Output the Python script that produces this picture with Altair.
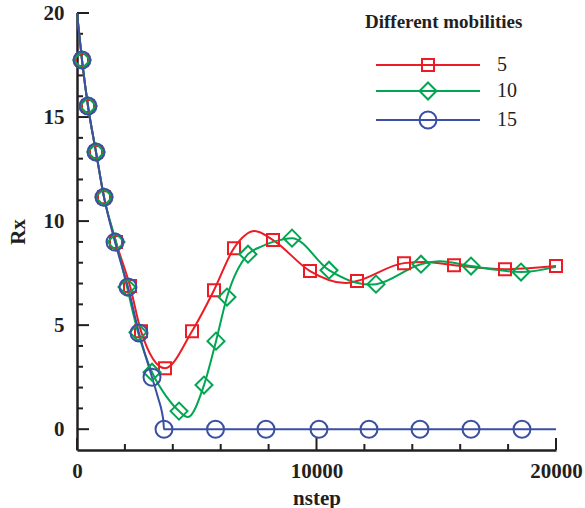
import altair as alt
import pandas as pd

series_names = ["5", "10", "15"]
series_colors = ["#ed1c24", "#00a651", "#3b50a3"]

# marker positions
red_mark_x = [209, 459, 793, 1127, 1628, 2213, 2672, 3674, 4802, 5720, 6555, 8184, 9729, 11691, 13653, 15741, 17871, 20000]
red_mark_y = [17.74, 15.53, 13.32, 11.15, 8.99, 6.88, 4.71, 2.93, 4.71, 6.68, 8.70, 9.09, 7.60, 7.12, 7.98, 7.88, 7.69, 7.84]
green_mark_x = [209, 459, 793, 1127, 1628, 2088, 2547, 3132, 4259, 5303, 5804, 6263, 7140, 8977, 10522, 12484, 14363, 16451, 18539]
green_mark_y = [17.74, 15.53, 13.32, 11.15, 8.99, 6.83, 4.66, 2.74, 0.87, 2.12, 4.23, 6.35, 8.41, 9.18, 7.64, 6.97, 7.93, 7.84, 7.55]
blue_mark_x = [209, 459, 793, 1127, 1587, 2129, 2589, 3132, 3633, 5783, 7891, 10104, 12192, 14321, 16451, 18580]
blue_mark_y = [17.74, 15.53, 13.32, 11.15, 8.99, 6.83, 4.62, 2.50, 0.0, 0.0, 0.0, 0.0, 0.0, 0.0, 0.0, 0.0]

# additional points of the curves between markers
red_curve_x = [0, 7417, 11200, 14500]
red_curve_y = [20.0, 9.52, 7.02, 8.03]
green_curve_x = [0, 3744, 4625, 7641, 8184, 12200, 15156, 20000]
green_curve_y = [20.0, 1.55, 0.58, 8.75, 9.00, 6.95, 8.07, 7.80]
blue_curve_x = [0, 3400, 3550, 3610, 20000]
blue_curve_y = [20.0, 1.45, 0.80, 0.35, 0.0]

# axis ticks
x_label_values = [0, 10000, 20000]
y_label_values = [0, 5, 10, 15, 20]
x_major_ticks = [0, 10000, 20000]
x_minor_ticks = [2000, 4000, 6000, 8000, 12000, 14000, 16000, 18000]
y_major_ticks = [0, 5, 10, 15, 20]
y_minor_ticks = [1, 2, 3, 4, 6, 7, 8, 9, 11, 12, 13, 14, 16, 17, 18, 19]

marks = {
    "5": (red_mark_x, red_mark_y),
    "10": (green_mark_x, green_mark_y),
    "15": (blue_mark_x, blue_mark_y),
}
curves = {
    "5": (red_curve_x, red_curve_y),
    "10": (green_curve_x, green_curve_y),
    "15": (blue_curve_x, blue_curve_y),
}

mark_rows, line_rows = [], []
for s in series_names:
    mx, my = marks[s]
    cx, cy = curves[s]
    for x, y in zip(mx, my):
        mark_rows.append({"series": s, "x": x, "y": y})
    pts = {}
    for x, y in list(zip(mx, my)) + list(zip(cx, cy)):
        pts[x] = y
    for x in sorted(pts):
        line_rows.append({"series": s, "x": x, "y": pts[x]})
marks_df = pd.DataFrame(mark_rows)
lines_df = pd.DataFrame(line_rows)

FONT = "Liberation Serif, Times New Roman, Times, serif"
INK = "#231f20"
W, H = 479, 437

xs = alt.Scale(domain=[0, 20000], nice=False, zero=False)
ys = alt.Scale(domain=[-1, 20], nice=False, zero=False)
cs = alt.Scale(domain=series_names, range=series_colors)

L = 6.5
legend_paths = [
    f"M-{L},0L{L},0M-0.75,-0.75L0.75,-0.75L0.75,0.75L-0.75,0.75Z",
    f"M-{L},0L{L},0M0,-1.06L1.06,0L0,1.06L-1.06,0Z",
    f"M-{L},0L{L},0M-1.06,0A1.06,1.06 0 1,0 1.06,0A1.06,1.06 0 1,0 -1.06,0Z",
]
shape_scale = alt.Scale(domain=series_names, range=legend_paths)

legend = alt.Legend(
    title="Different mobilities", orient="none", legendX=288, legendY=0,
    padding=0, symbolSize=256, symbolStrokeWidth=2, symbolOffset=53,
    symbolOpacity=1, labelOffset=59, labelFont=FONT, labelFontSize=20,
    labelColor=INK, titleFont=FONT, titleFontSize=19, titleFontWeight="bold",
    titleColor=INK, titlePadding=23, rowPadding=3,
)

x_axis = alt.Axis(values=x_label_values, format="d", title="nstep", ticks=False,
                  grid=False, labelFlush=False, labelOverlap=False, labelPadding=10,
                  titlePadding=6)
y_axis = alt.Axis(values=y_label_values, title="Rx", ticks=False, grid=False,
                  labelPadding=13, titlePadding=15, labelOverlap=False)

legend_layer = alt.Chart(marks_df).transform_filter(alt.datum.x < 0).mark_point(
    filled=False, strokeWidth=2
).encode(
    x=alt.X("x:Q", scale=xs, axis=x_axis),
    y=alt.Y("y:Q", scale=ys, axis=y_axis),
    color=alt.Color("series:N", scale=cs, legend=legend),
    shape=alt.Shape("series:N", scale=shape_scale, legend=legend),
)

lines = alt.Chart(lines_df).mark_line(strokeWidth=2, interpolate="monotone").encode(
    x=alt.X("x:Q", scale=xs, axis=x_axis),
    y=alt.Y("y:Q", scale=ys, axis=y_axis),
    color=alt.Color("series:N", scale=cs, legend=None),
    detail="series:N",
)

marker_shapes = {"5": ("square", 144), "10": ("diamond", 289), "15": ("circle", 289)}
marker_layers = []
for s in series_names:
    shp, sz = marker_shapes[s]
    marker_layers.append(
        alt.Chart(marks_df).transform_filter(alt.datum.series == s)
        .mark_point(shape=shp, size=sz, filled=False, strokeWidth=2, opacity=1)
        .encode(
            x=alt.X("x:Q", scale=xs, axis=x_axis),
            y=alt.Y("y:Q", scale=ys, axis=y_axis),
            color=alt.Color("series:N", scale=cs, legend=None),
        )
    )

def yticks(vals, length):
    return alt.Chart(pd.DataFrame({"v": vals})).mark_rule(color=INK, strokeWidth=2).encode(
        y=alt.Y("v:Q", scale=ys, axis=y_axis), x=alt.value(0), x2=alt.value(length))

def xticks(vals, length):
    return alt.Chart(pd.DataFrame({"v": vals})).mark_rule(color=INK, strokeWidth=2).encode(
        x=alt.X("v:Q", scale=xs, axis=x_axis), y=alt.value(H), y2=alt.value(H - length))

chart = alt.layer(
    legend_layer,
    yticks(y_major_ticks, 12), yticks(y_minor_ticks, 6),
    xticks(x_major_ticks, 12), xticks(x_minor_ticks, 6),
    lines, *marker_layers,
).properties(
    width=W, height=H,
    autosize=alt.AutoSizeParams(type="none"),
    padding={"left": 77, "top": 13, "right": 29, "bottom": 58},
).configure_view(stroke=None).configure_axis(
    labelFont=FONT, labelFontSize=21, labelFontWeight="bold", labelColor=INK,
    titleFont=FONT, titleFontSize=21, titleFontWeight="bold", titleColor=INK,
    domainColor=INK, domainWidth=2.5,
)

chart.save("out.html", embed_options={"renderer": "svg", "actions": False})
